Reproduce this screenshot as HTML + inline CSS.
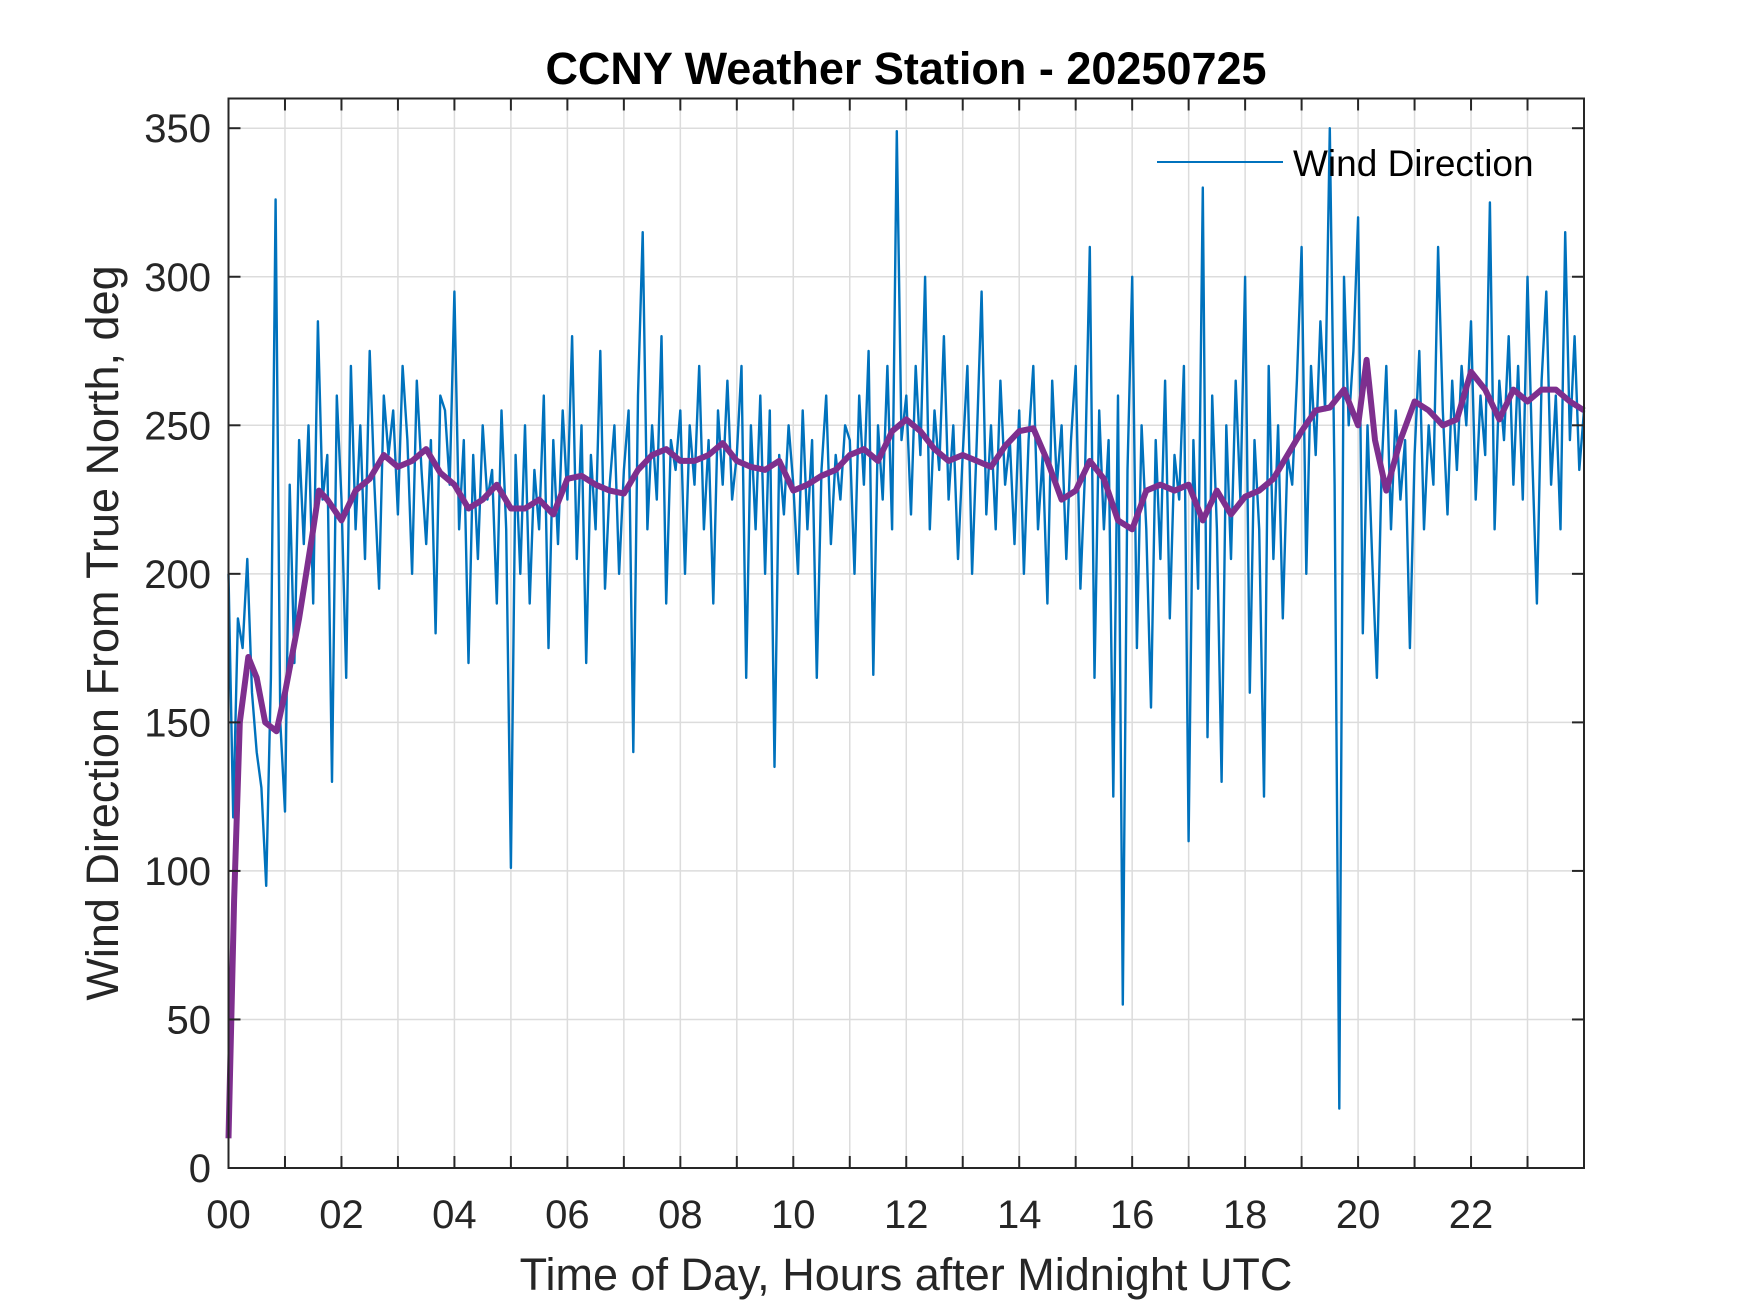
<!DOCTYPE html>
<html><head><meta charset="utf-8"><style>
html,body{margin:0;padding:0;background:#fff;}
svg{display:block;font-family:"Liberation Sans",Arial,sans-serif;}
</style></head><body>
<svg id="chart" width="1750" height="1313" viewBox="0 0 1750 1313">
<rect width="1750" height="1313" fill="#fff"/>
<g id="grid"></g>
<g id="series"></g>
<g id="axes"></g>
<text x="906" y="84" text-anchor="middle" font-size="45" font-weight="bold" fill="#000">CCNY Weather Station - 20250725</text>
<text x="906" y="1290" text-anchor="middle" font-size="45" fill="#262626">Time of Day, Hours after Midnight UTC</text>
<text transform="translate(118,633) rotate(-90)" text-anchor="middle" font-size="45" fill="#262626">Wind Direction From True North, deg</text>
<g>
<line x1="1157" y1="162" x2="1283" y2="162" stroke="#0072BD" stroke-width="2"/>
<text x="1293" y="176" font-size="37" fill="#000">Wind Direction</text>
</g>
</svg>
<script>
const yTicks=[0,50,100,150,200,250,300,350];
const xTickLabels=["00","02","04","06","08","10","12","14","16","18","20","22"];
const windDir=[
200,118,185,175,205,160,140,128,95,165,326,150,
120,230,170,245,210,250,190,285,225,240,130,260,
225,165,270,215,250,205,275,230,195,260,240,255,
220,270,245,200,265,235,210,245,180,260,255,230,
295,215,245,170,240,205,250,225,235,190,255,215,
101,240,200,250,190,235,215,260,175,245,210,255,
225,280,205,250,170,240,215,275,195,230,250,200,
235,255,140,260,315,215,250,225,280,190,245,235,
255,200,250,230,270,215,245,190,255,230,265,225,
240,270,165,250,215,260,200,255,135,240,220,250,
230,200,255,215,245,165,235,260,210,240,225,250,
245,200,260,230,275,166,250,225,270,215,349,245,
260,220,270,240,300,215,255,235,280,225,250,205,
240,270,200,245,295,220,250,215,265,230,245,210,
255,200,245,270,215,240,190,265,230,250,205,245,
270,195,235,310,165,255,215,245,125,260,55,235,
300,175,250,215,155,245,205,265,185,240,225,270,
110,245,195,330,145,260,215,130,250,205,265,225,
300,160,245,215,125,270,205,250,185,240,230,265,
310,200,270,240,285,255,350,230,20,300,250,275,
320,180,250,205,165,235,270,215,255,225,245,175,
240,275,215,250,230,310,255,220,265,235,270,250,
285,225,260,240,325,215,265,245,280,230,270,225,
300,240,190,265,295,230,260,215,315,245,280,235,255];
const avgHours=[0,0.1,0.2,0.35,0.5,0.65,0.85,1,1.25,1.5,1.6,1.75,2,2.25,2.5,2.75,3,3.25,3.5,3.75,4,4.25,4.5,4.75,5,5.25,5.5,5.75,6,6.25,6.5,6.75,7,7.25,7.5,7.75,8,8.25,8.5,8.75,9,9.25,9.5,9.75,10,10.25,10.5,10.75,11,11.25,11.5,11.75,12,12.25,12.5,12.75,13,13.25,13.5,13.75,14,14.25,14.5,14.75,15,15.25,15.5,15.75,16,16.25,16.5,16.75,17,17.25,17.5,17.75,18,18.25,18.5,18.75,19,19.25,19.5,19.75,20,20.15,20.3,20.5,20.75,21,21.25,21.5,21.75,22,22.25,22.5,22.75,23,23.25,23.5,23.75,24];
const avgDir=[10,90,150,172,165,150,147,160,185,215,228,225,218,228,232,240,236,238,242,234,230,222,225,230,222,222,225,220,232,233,230,228,227,235,240,242,238,238,240,244,238,236,235,238,228,230,233,235,240,242,238,248,252,248,242,238,240,238,236,243,248,249,238,225,228,238,232,218,215,228,230,228,230,218,228,220,226,228,232,240,248,255,256,262,250,272,245,228,245,258,255,250,252,268,262,252,262,258,262,262,258,255];

const L=228.5,R=1584,T=98.5,B=1168,XMAX=24,YMAX=360;
const sx=h=>L+(R-L)*h/XMAX;
const sy=v=>B-(B-T)*v/YMAX;
const NS="http://www.w3.org/2000/svg";
function mk(tag,attrs,parent){const e=document.createElementNS(NS,tag);for(const k in attrs)e.setAttribute(k,attrs[k]);parent.appendChild(e);return e;}
const grid=document.getElementById('grid'),axes=document.getElementById('axes'),series=document.getElementById('series');
for(let h=1;h<24;h++){
 const g=mk('line',{x1:sx(h),x2:sx(h),y1:T,y2:B,stroke:'#dcdcdc','stroke-width':1.5},grid);
 
 
 const t1=mk('line',{x1:sx(h),x2:sx(h),y1:B,y2:B-12,stroke:'#262626','stroke-width':2},axes);
 
 
 const t2=mk('line',{x1:sx(h),x2:sx(h),y1:T,y2:T+12,stroke:'#262626','stroke-width':2},axes);
 
 
}
xTickLabels.forEach((s,i)=>{
 const t=mk('text',{x:sx(i*2),y:1228,'text-anchor':'middle','font-size':40,fill:'#262626'},axes);
 t.textContent=s;
 
 
});
yTicks.forEach(v=>{
 if(v>0){const g=mk('line',{x1:L,x2:R,y1:sy(v),y2:sy(v),stroke:'#dcdcdc','stroke-width':1.5},grid);
 
 }
 const a=mk('line',{x1:L,x2:L+12,y1:sy(v),y2:sy(v),stroke:'#262626','stroke-width':2},axes);
 
 
 const b=mk('line',{x1:R,x2:R-12,y1:sy(v),y2:sy(v),stroke:'#262626','stroke-width':2},axes);
 
 
 const t=mk('text',{x:211,y:sy(v)+14,'text-anchor':'end','font-size':40,fill:'#262626'},axes);
 t.textContent=v;
 
 
});
const box=mk('rect',{x:L,y:T,width:R-L,height:B-T,fill:'none',stroke:'#262626','stroke-width':2},axes);


const n=windDir.length;
const p1=windDir.map((v,i)=>sx(i*XMAX/(n-1)).toFixed(1)+','+sy(v).toFixed(1)).join(' ');
const pl=mk('polyline',{points:p1,fill:'none',stroke:'#0072BD','stroke-width':2.4,'stroke-linejoin':'round'},series);


const p2=avgDir.map((v,i)=>sx(avgHours[i]).toFixed(1)+','+sy(v).toFixed(1)).join(' ');
const pa=mk('polyline',{points:p2,fill:'none',stroke:'#7E2F8E','stroke-width':6,'stroke-linejoin':'round'},series);


</script>
</body></html>
